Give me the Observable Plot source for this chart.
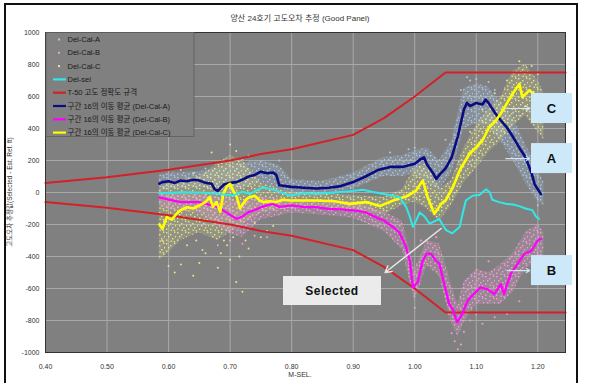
<!DOCTYPE html>
<html><head><meta charset="utf-8">
<script src="https://cdn.jsdelivr.net/npm/d3@7"></script>
<script src="https://cdn.jsdelivr.net/npm/@observablehq/plot@0.6"></script>
<style>
body{margin:0;background:#fff;}
#wrap{position:relative;width:598px;height:383px;overflow:hidden;font-family:Arial,"Liberation Sans","Noto Sans CJK KR",sans-serif;}
#frame{position:absolute;left:4px;top:3px;width:574px;height:382px;border:2px solid #111;box-sizing:border-box;pointer-events:none;}
</style></head><body><div id="wrap"><div id="frame"></div></div>
<script>
// ---- text ----
const chartTitle = "양산 24호기 고도오차 추정 (Good Panel)";
const yTitle = "고도오차 추정값(Selected - Est. Ref. ft)";
const xTitle = "M-SEL.";
const legendLabels = ["Del-Cal-A","Del-Cal-B","Del-Cal-C","Del-sel","T-50 고도 정확도 규격",
  "구간 16의 이동 평균 (Del-Cal-A)","구간 16의 이동 평균 (Del-Cal-B)","구간 16의 이동 평균 (Del-Cal-C)"];
const calloutLabels = ["C","A","B"];
const selectedLabel = "Selected";

// ---- ticks ----
const xTicks = [0.40,0.50,0.60,0.70,0.80,0.90,1.00,1.10,1.20];
const yTicks = [-1000,-800,-600,-400,-200,0,200,400,600,800,1000];

// ---- T-50 spec limits ----
const specX     = [0.40,0.50,0.60,0.70,0.75,0.80,0.90,0.95,1.00,1.05,1.245];
const specUpper = [60,95,142,200,240,270,360,465,600,750,750];
const specLower = [-60,-95,-142,-200,-240,-270,-360,-465,-600,-750,-750];

// ---- Del-sel ----
const selX = [0.585,0.592,0.624,0.65,0.678,0.705,0.72,0.732,0.754,0.775,0.797,0.82,0.84,0.87,0.894,0.916,0.93,0.948,0.965,0.975,0.986,0.992,0.997,1.003,1.008,1.016,1.024,1.032,1.040,1.045,1.051,1.061,1.073,1.078,1.083,1.094,1.105,1.116,1.122,1.126,1.137,1.148,1.16,1.17,1.18,1.191,1.197,1.202];
const selY = [-5,-4,2,0,-8,-19,5,-8,33,12,-19,-5,-8,0,8,17,5,-8,-20,-29,-90,-150,-215,-170,-125,-150,-195,-180,-165,-200,-235,-255,-215,-130,-50,-20,-15,20,0,-45,-60,-70,-75,-85,-100,-110,-150,-165];

// ---- moving average A (navy) ----
const maAX = [0.585,0.59,0.60,0.61,0.62,0.63,0.64,0.65,0.66,0.67,0.675,0.68,0.69,0.70,0.71,0.72,0.73,0.74,0.75,0.76,0.77,0.775,0.78,0.79,0.80,0.82,0.84,0.86,0.88,0.90,0.92,0.94,0.96,0.98,1.00,1.01,1.015,1.02,1.03,1.035,1.04,1.05,1.06,1.07,1.08,1.085,1.09,1.10,1.11,1.115,1.12,1.13,1.14,1.15,1.16,1.17,1.18,1.19,1.195,1.20,1.205];
const maAY = [55,65,70,60,75,70,80,75,60,55,20,10,50,60,65,80,100,110,130,120,125,110,45,40,35,30,25,30,40,65,100,140,160,160,180,210,220,175,120,85,110,150,220,350,520,560,540,560,550,580,560,500,450,405,345,280,220,120,50,20,-10];

// ---- moving average B (magenta) ----
const maBX = [0.585,0.60,0.62,0.64,0.65,0.66,0.68,0.69,0.70,0.71,0.72,0.73,0.74,0.75,0.76,0.77,0.78,0.80,0.82,0.84,0.86,0.88,0.90,0.92,0.94,0.95,0.965,0.975,0.985,0.992,0.997,1.005,1.013,1.02,1.027,1.034,1.04,1.048,1.056,1.062,1.069,1.077,1.086,1.096,1.107,1.118,1.129,1.14,1.145,1.156,1.167,1.178,1.19,1.20,1.205];
const maBY = [-30,-45,-60,-60,-60,-70,-92,-115,-140,-165,-150,-123,-110,-92,-80,-71,-90,-81,-92,-92,-102,-105,-112,-123,-160,-175,-217,-250,-330,-425,-592,-560,-425,-380,-385,-425,-446,-573,-696,-730,-812,-761,-675,-635,-593,-604,-635,-573,-635,-509,-446,-384,-362,-300,-290];

// ---- moving average C (yellow) ----
const maCX = [0.585,0.59,0.597,0.605,0.613,0.62,0.63,0.64,0.65,0.66,0.667,0.672,0.678,0.684,0.689,0.695,0.70,0.705,0.711,0.716,0.721,0.727,0.732,0.74,0.748,0.754,0.765,0.775,0.785,0.797,0.81,0.84,0.87,0.894,0.921,0.943,0.965,0.986,1.002,1.013,1.021,1.032,1.043,1.051,1.062,1.073,1.089,1.10,1.11,1.121,1.132,1.143,1.159,1.17,1.175,1.186,1.194,1.202];
const maCY = [-200,-227,-154,-170,-133,-110,-92,-100,-81,-60,-29,-90,-60,-120,-8,40,54,10,-29,-100,-71,-40,-29,-20,-50,-60,-55,-60,-45,-50,-50,-50,-55,-71,-60,-85,-50,-25,10,75,-29,-133,-71,-45,33,138,242,283,325,408,450,513,617,679,596,638,617,513];

// ---- scatter clouds (envelopes of Del-Cal-A/B/C points) ----
const cloudAX  = [0.585,0.60,0.65,0.70,0.75,0.78,0.80,0.85,0.90,0.95,0.98,1.00,1.02,1.04,1.06,1.08,1.10,1.12,1.14,1.16,1.18,1.20,1.21];
const cloudALo = [10,20,30,0,60,20,-10,-20,20,100,100,120,60,20,120,400,430,420,320,200,60,-60,-80];
const cloudAHi = [110,120,130,170,200,170,80,70,120,220,230,260,280,200,320,650,680,660,560,460,300,150,60];

const cloudBX  = [0.585,0.60,0.65,0.70,0.72,0.75,0.80,0.85,0.90,0.95,0.98,1.00,1.02,1.04,1.06,1.07,1.08,1.10,1.12,1.14,1.16,1.18,1.20,1.21];
const cloudBLo = [-80,-110,-130,-260,-280,-170,-130,-140,-160,-240,-360,-680,-460,-520,-820,-900,-820,-700,-700,-700,-620,-480,-420,-440];
const cloudBHi = [10,-10,-10,-40,-60,-30,-40,-50,-60,-120,-180,-480,-300,-320,-580,-700,-560,-480,-500,-450,-380,-250,-200,-250];

const cloudCX  = [0.585,0.60,0.62,0.65,0.68,0.70,0.72,0.75,0.78,0.80,0.85,0.90,0.95,0.98,1.00,1.02,1.04,1.06,1.08,1.10,1.12,1.14,1.16,1.18,1.20,1.21];
const cloudCLo = [-420,-380,-300,-250,-300,-250,-200,-130,-110,-100,-100,-110,-140,-80,-60,-100,-180,-80,60,150,250,320,420,480,380,330];
const cloudCHi = [20,60,80,100,180,230,200,60,20,0,0,-20,-30,20,150,180,20,80,280,420,520,600,760,800,700,620];

// scattered outlying points
const outAX = [1.085,1.10,1.12,0.75,0.78,1.00,1.17,1.20,0.72,1.05,1.075,1.09,1.13,1.15,1.19,0.96,0.99,0.70,0.66,0.62,1.065,1.16];
const outAY = [720,710,690,240,200,280,480,-80,210,330,640,700,640,560,280,250,270,190,150,140,360,500];
const outBX = [1.065,1.07,1.075,1.06,1.08,1.09,0.99,1.00,0.68,0.72,0.76,1.13,1.19,1.11,1.15,1.05,1.055,1.10,1.12,1.17,1.20,0.70,0.74,0.66,1.01,1.035];
const outBY = [-930,-980,-950,-880,-870,-800,-480,-720,-330,-320,-280,-780,-500,-820,-760,-650,-760,-760,-430,-680,-460,-300,-270,-200,-300,-280];
const outCX = [0.62,0.64,0.66,0.68,0.70,0.71,0.72,0.69,0.73,0.61,0.75,0.74,0.77,0.67,0.71,0.73,1.17,1.19,1.20,1.21,0.63,0.65,0.60,0.59,0.685,0.695,0.705,0.715,0.725,0.655,0.645,0.76,1.15,1.13,1.11,1.09,1.18,0.64,0.70];
const outCY = [-450,-520,-380,-470,-420,-560,-620,-300,-350,-500,-280,-190,-210,250,260,230,820,790,740,520,-330,-440,-460,-300,-380,-330,-280,-400,-300,-360,-300,-240,700,620,520,380,540,120,300];

// ---- annotations (data coords) ----
const calloutY = [525,212,-488];
const calloutArrowX1 = [1.148,1.148,1.150];
const calloutArrowX2 = [1.187,1.187,1.187];
const selArrowX = [1.043,0.952];
const selArrowY = [-225,-500];

// ---- colors ----
const colors = {A:"#a7c9ee", B:"#f29fd8", C:"#e8e48c", sel:"#30e8e8", spec:"#d42027", maA:"#0c0c82", maB:"#ff00ff", maC:"#ffff00"};

const rows = (xs, ys) => xs.map((x,i)=>({x, y: ys[i]}));
const band = (xs, lo, hi) => xs.map((x,i)=>({x, lo: lo[i], hi: hi[i]}));

const svg = Plot.plot({
  width: 598, height: 383,
  marginLeft: 45, marginRight: 33, marginTop: 32, marginBottom: 31,
  style: {fontFamily: 'Arial,"Liberation Sans","Noto Sans CJK KR",sans-serif', fontSize: "7px", background: "transparent", color:"#333"},
  x: {domain: [0.4, 1.245]},
  y: {domain: [-1000, 1000]},
  marks: [
    Plot.frame({fill: "#808080"}),
    Plot.gridY(yTicks, {stroke: "#a9a9a9", strokeOpacity: 1}),
    Plot.gridX(xTicks, {stroke: "#a9a9a9", strokeOpacity: 1}),
    Plot.areaY(band(cloudAX, cloudALo, cloudAHi), {x:"x", y1:"lo", y2:"hi", fill: colors.A, fillOpacity: 0.22}),
    Plot.areaY(band(cloudCX, cloudCLo, cloudCHi), {x:"x", y1:"lo", y2:"hi", fill: colors.C, fillOpacity: 0.2}),
    Plot.areaY(band(cloudBX, cloudBLo, cloudBHi), {x:"x", y1:"lo", y2:"hi", fill: colors.B, fillOpacity: 0.22}),
    Plot.areaY(band(cloudAX, cloudALo, cloudAHi), {x:"x", y1:"lo", y2:"hi", fill: "url(#patA)"}),
    Plot.areaY(band(cloudCX, cloudCLo, cloudCHi), {x:"x", y1:"lo", y2:"hi", fill: "url(#patC)"}),
    Plot.areaY(band(cloudBX, cloudBLo, cloudBHi), {x:"x", y1:"lo", y2:"hi", fill: "url(#patB)"}),
    Plot.dot(rows(outAX, outAY), {x:"x", y:"y", r: 1, fill: colors.A, stroke: null}),
    Plot.dot(rows(outBX, outBY), {x:"x", y:"y", r: 1, fill: colors.B, stroke: null}),
    Plot.dot(rows(outCX, outCY), {x:"x", y:"y", r: 1, fill: colors.C, stroke: null}),
    Plot.line(rows(specX, specUpper), {x:"x", y:"y", stroke: colors.spec, strokeWidth: 2}),
    Plot.line(rows(specX, specLower), {x:"x", y:"y", stroke: colors.spec, strokeWidth: 2}),
    Plot.line(rows(maAX, maAY), {x:"x", y:"y", stroke: colors.maA, strokeWidth: 2.6}),
    Plot.line(rows(maBX, maBY), {x:"x", y:"y", stroke: colors.maB, strokeWidth: 2.3}),
    Plot.line(rows(maCX, maCY), {x:"x", y:"y", stroke: colors.maC, strokeWidth: 2.6}),
    Plot.line(rows(selX, selY), {x:"x", y:"y", stroke: colors.sel, strokeWidth: 2}),
    Plot.arrow(calloutY.map((y,i)=>({x1: calloutArrowX1[i], x2: calloutArrowX2[i], y})), {x1:"x1", x2:"x2", y1:"y", y2:"y", stroke:"#cfe6f6", strokeWidth: 1.2, headLength: 5}),
    Plot.arrow([{x1: selArrowX[0], y1: selArrowY[0], x2: selArrowX[1], y2: selArrowY[1]}], {x1:"x1", y1:"y1", x2:"x2", y2:"y2", stroke:"#e8e8e8", strokeWidth: 1.5, headLength: 7}),
    Plot.frame({stroke: "#333", strokeWidth: 1}),
    Plot.axisY(yTicks, {tickSize: 0, tickPadding: 6, label: null, fill: "#333", tickFormat: d => String(d)}),
    Plot.axisX(xTicks, {tickSize: 0, tickPadding: 12, label: null, tickFormat: d => d.toFixed(2), fill: "#333"})
  ]
});
document.getElementById("wrap").prepend(svg);
svg.style.position = "absolute"; svg.style.left = "0"; svg.style.top = "0";

const S = d3.select(svg);
const font = 'Arial,"Liberation Sans","Noto Sans CJK KR",sans-serif';

// speckle patterns for scatter clouds
const defs = S.insert("defs", ":first-child");
const speck = [[1,1],[5,3],[9,0.5],[3,5],[7,7],[10,5],[1,8.5],[5.5,9.5],[8.5,10]];
[["patA", colors.A],["patB", colors.B],["patC", colors.C]].forEach(([id,c])=>{
  const p = defs.append("pattern").attr("id", id).attr("patternUnits","userSpaceOnUse").attr("width",11).attr("height",11);
  speck.forEach(([sx,sy])=>p.append("rect").attr("x",sx).attr("y",sy).attr("width",1.4).attr("height",1.4).attr("fill",c));
});

// title
S.append("text").attr("x", 300).attr("y", 21).attr("text-anchor","middle")
  .attr("font-size", 8).attr("fill","#333").attr("font-family", font).text(chartTitle);
// y title
S.append("text").attr("transform","translate(12,192) rotate(-90)").attr("text-anchor","middle")
  .attr("font-size", 6.5).attr("fill","#333").attr("font-family", font).text(yTitle);
// x title
S.append("text").attr("x", 300).attr("y", 377).attr("text-anchor","middle")
  .attr("font-size", 7).attr("fill","#333").attr("font-family", font).text(xTitle);

// legend
const lg = S.append("g").attr("text-anchor","start");
lg.append("rect").attr("x",46).attr("y",32.5).attr("width",148).attr("height",104)
  .attr("fill","#808080").attr("stroke","#5e5e5e").attr("stroke-width",0.8);
const legendKinds = [
  {type:"dot", color: colors.A},{type:"dot", color: colors.B},{type:"dot", color: colors.C},
  {type:"line", color: colors.sel},{type:"line", color: colors.spec},
  {type:"line", color: colors.maA},{type:"line", color: colors.maB},{type:"line", color: colors.maC}];
legendLabels.forEach((lab,i)=>{
  const cy = 39.5 + i*13.3;
  const k = legendKinds[i];
  if (k.type === "dot") lg.append("rect").attr("x",58).attr("y",cy-1).attr("width",2).attr("height",2).attr("fill",k.color);
  else lg.append("line").attr("x1",53).attr("x2",66).attr("y1",cy).attr("y2",cy).attr("stroke",k.color).attr("stroke-width",2.2);
  lg.append("text").attr("x",67.5).attr("y",cy+2.6).attr("text-anchor","start").attr("font-size",7.5).attr("fill","#1a1a1a")
    .attr("font-family",font).text(lab);
});

// callout boxes
const yScale = svg.scale("y");
calloutLabels.forEach((lab,i)=>{
  const cy = yScale.apply(calloutY[i]);
  S.append("rect").attr("x",531).attr("y",cy-15).attr("width",41).attr("height",30).attr("fill","#cde8f9");
  S.append("text").attr("x",551.5).attr("y",cy+4.5).attr("text-anchor","middle").attr("font-size",13)
    .attr("font-weight","bold").attr("fill","#111").attr("font-family",font).text(lab);
});
// selected box
S.append("rect").attr("x",283).attr("y",276).attr("width",98).attr("height",29).attr("fill","#ebebeb");
S.append("text").attr("x",332).attr("y",295).attr("text-anchor","middle").attr("font-size",12)
  .attr("font-weight","bold").attr("fill","#111").attr("font-family",font).attr("letter-spacing","0.5").text(selectedLabel);
</script></body></html>
